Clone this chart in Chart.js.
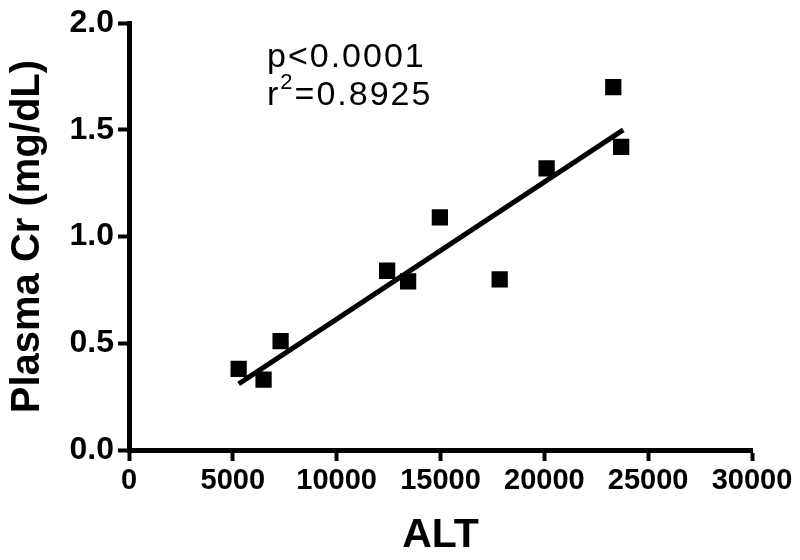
<!DOCTYPE html>
<html>
<head>
<meta charset="utf-8">
<script src="https://cdn.jsdelivr.net/npm/chart.js@4/dist/chart.umd.min.js"></script>
<style>
html,body{margin:0;padding:0;background:#fff;}
#wrap{width:800px;height:560px;position:relative;}
</style>
</head>
<body>
<div id="wrap"><canvas id="c" width="800" height="560"></canvas></div>
<script>
// Data
const altValues = [5280, 6480, 7300, 12430, 13440, 14970, 17850, 20110, 23320, 23700];
const crValues  = [0.38, 0.33, 0.51, 0.84, 0.79, 1.09, 0.80, 1.32, 1.70, 1.42];
const fitX = [5280, 23800];
const fitY = [0.31, 1.50];
const xTicks = [0, 5000, 10000, 15000, 20000, 25000, 30000];
const yTicks = [0.0, 0.5, 1.0, 1.5, 2.0];
const annotationP = "p<0.0001";
const annotationR = ["r", "2", "=0.8925"];

const FONT = "'Liberation Sans', Arial, sans-serif";

const annotPlugin = {
  id: 'annot',
  afterDraw(chart) {
    const ctx = chart.ctx;
    ctx.save();
    ctx.fillStyle = '#000';
    ctx.textBaseline = 'alphabetic';
    ctx.textAlign = 'left';
    try { ctx.letterSpacing = '2px'; } catch (e) {}
    ctx.font = "34px " + FONT;
    const x0 = 267;
    ctx.fillText(annotationP, x0, 67);
    let x = x0;
    ctx.fillText(annotationR[0], x, 105);
    x += ctx.measureText(annotationR[0]).width;
    ctx.font = "22px " + FONT;
    ctx.fillText(annotationR[1], x, 89);
    x += ctx.measureText(annotationR[1]).width;
    ctx.font = "34px " + FONT;
    ctx.fillText(annotationR[2], x, 105);
    ctx.restore();
  }
};

new Chart(document.getElementById('c'), {
  type: 'scatter',
  data: {
    datasets: [
      {
        label: 'fit',
        type: 'line',
        data: fitX.map((v, i) => ({x: v, y: fitY[i]})),
        borderColor: '#000',
        borderWidth: 5,
        pointRadius: 0,
        fill: false,
        order: 2
      },
      {
        label: 'Cr',
        data: altValues.map((v, i) => ({x: v, y: crValues[i]})),
        pointStyle: 'rect',
        pointRadius: 11.5,
        pointHoverRadius: 11.5,
        backgroundColor: '#000',
        borderColor: '#000',
        borderWidth: 0,
        order: 1
      }
    ]
  },
  options: {
    responsive: false,
    animation: false,
    events: [],
    layout: { padding: { top: 20, right: 48, bottom: 0, left: 0 } },
    plugins: { legend: { display: false }, tooltip: { enabled: false } },
    scales: {
      x: {
        type: 'linear',
        min: 0, max: 30000,
        afterBuildTicks(scale) { scale.ticks = xTicks.map(v => ({value: v})); },
        afterFit(scale) { scale.height = 110; },
        border: { display: true, color: '#000', width: 5 },
        grid: { drawOnChartArea: false, drawTicks: true, tickLength: 11, tickWidth: 4, color: '#000' },
        ticks: {
          color: '#000', padding: 3,
          font: { family: FONT, size: 29, weight: 'bold' },
          callback: v => String(v)
        },
        title: {
          display: true, text: 'ALT', color: '#000',
          font: { family: FONT, size: 41, weight: 'bold' },
          padding: { top: 2, bottom: 0 }
        }
      },
      y: {
        type: 'linear',
        min: 0, max: 2,
        afterBuildTicks(scale) { scale.ticks = yTicks.map(v => ({value: v})); },
        afterFit(scale) { scale.width = 129; },
        border: { display: true, color: '#000', width: 5 },
        grid: { drawOnChartArea: false, drawTicks: true, tickLength: 11, tickWidth: 4, color: '#000' },
        ticks: {
          color: '#000', padding: 4,
          font: { family: FONT, size: 32, weight: 'bold' },
          callback: v => Number(v).toFixed(1)
        },
        title: {
          display: true, text: 'Plasma Cr (mg/dL)', color: '#000',
          font: { family: FONT, size: 40, weight: 'bold' },
          padding: { top: 4, bottom: 0 }
        }
      }
    }
  },
  plugins: [annotPlugin]
});
</script>
</body>
</html>
